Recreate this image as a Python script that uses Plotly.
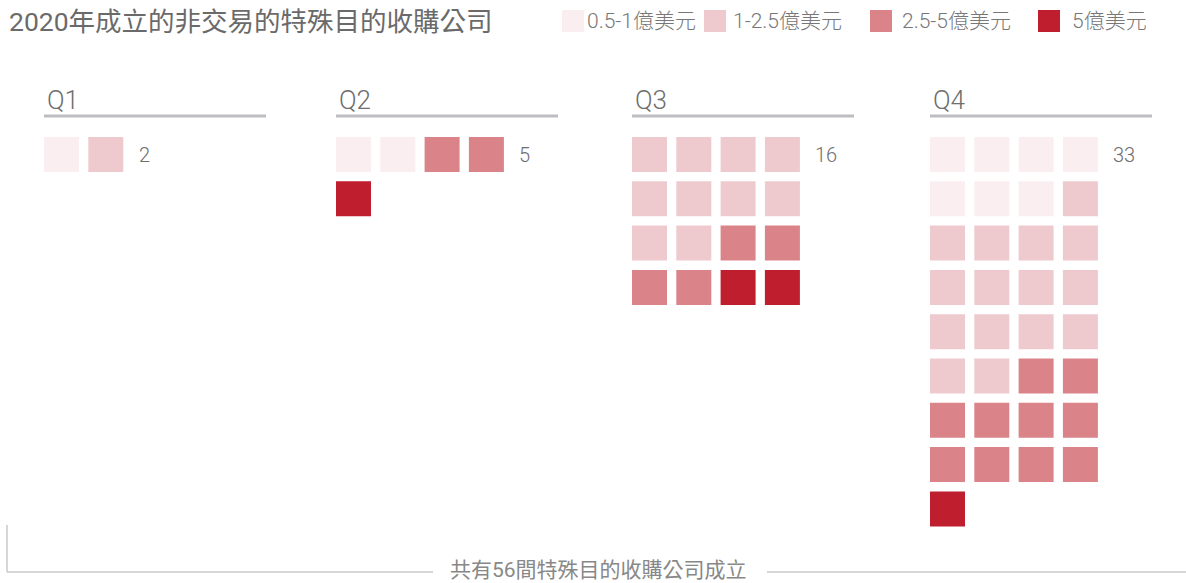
import plotly.graph_objects as go

# ---- data -------------------------------------------------------------
quarters = ["Q1", "Q2", "Q3", "Q4"]
tiers = ["0.5-1億美元", "1-2.5億美元", "2.5-5億美元", "5億美元"]
tier_05_1 = [1, 2, 0, 7]
tier_1_25 = [1, 0, 10, 15]
tier_25_5 = [0, 2, 4, 10]
tier_5 = [0, 1, 2, 1]
title_text = "2020年成立的非交易的特殊目的收購公司"
footer_text = "共有56間特殊目的收購公司成立"

# ---- styling ----------------------------------------------------------
tier_counts = [tier_05_1, tier_1_25, tier_25_5, tier_5]
tier_colors = ["#fbeef0", "#eecacf", "#da8389", "#be1e2d"]
FONT = "Roboto, 'Noto Sans CJK TC', sans-serif"
W, H = 1186, 583
panel_x0 = [44, 336, 632, 930]      # left edge of each quarter panel
grid_y0 = 137                        # top of first row of squares
cell = 35
step = 44.3
ncols = 4

fig = go.Figure()

# waffle squares: fill each quarter row-major, tier by tier
xs = {t: [] for t in range(len(tiers))}
ys = {t: [] for t in range(len(tiers))}
totals = []
for q in range(len(quarters)):
    k = 0
    for t in range(len(tiers)):
        for _ in range(tier_counts[t][q]):
            r, c = divmod(k, ncols)
            xs[t].append(panel_x0[q] + c * step + cell / 2)
            ys[t].append(grid_y0 + r * step + cell / 2)
            k += 1
    totals.append(k)

for t, name in enumerate(tiers):
    fig.add_trace(go.Scatter(
        x=xs[t], y=ys[t], mode="markers", name=name, showlegend=False,
        marker=dict(symbol="square", size=cell, color=tier_colors[t],
                    line=dict(width=0)),
        hoverinfo="skip",
    ))

shapes = []
annotations = []

# quarter headers with underline and total count
for q, label in enumerate(quarters):
    x0 = panel_x0[q]
    annotations.append(dict(
        x=x0 + 1, y=100, text=label, showarrow=False, xanchor="left",
        yanchor="middle", font=dict(family=FONT, size=26, color="#6e6e6e",
                                    weight=300)))
    shapes.append(dict(type="line", x0=x0, x1=x0 + 222, y0=116, y1=116,
                       line=dict(color="#bdbdc2", width=3)))
    first_row = min(totals[q], ncols)
    annotations.append(dict(
        x=x0 + first_row * step + 4, y=grid_y0 + cell / 2,
        text=str(totals[q]), showarrow=False, xanchor="left",
        yanchor="middle", font=dict(family=FONT, size=20, color="#6e6e6e",
                                    weight=300)))

# title
annotations.append(dict(
    x=7, y=21, text=title_text, showarrow=False, xanchor="left",
    yanchor="middle", font=dict(family=FONT, size=26.5, color="#6a6a6a")))

# legend
legend_key_x = [562, 704, 870, 1038]
legend_text_x = [585, 731, 900, 1070]
for t, name in enumerate(tiers):
    lx = legend_key_x[t]
    shapes.append(dict(type="rect", x0=lx, x1=lx + 22, y0=10, y1=32,
                       fillcolor=tier_colors[t], line=dict(width=0)))
    annotations.append(dict(
        x=legend_text_x[t], y=21, text=name, showarrow=False,
        xanchor="left", yanchor="middle",
        font=dict(family=FONT, size=21, color="#777777", weight=300)))

# footer bracket
line_col = "#c9c9c9"
shapes.append(dict(type="line", x0=7, x1=7, y0=525, y1=572,
                   line=dict(color=line_col, width=1.5)))
shapes.append(dict(type="line", x0=7, x1=433, y0=572, y1=572,
                   line=dict(color=line_col, width=1.5)))
shapes.append(dict(type="line", x0=767, x1=W, y0=572, y1=572,
                   line=dict(color=line_col, width=1.5)))
annotations.append(dict(
    x=598, y=570, text=footer_text, showarrow=False, xanchor="center",
    yanchor="middle", font=dict(family=FONT, size=21, color="#888888")))

fig.update_layout(
    width=W, height=H,
    margin=dict(l=0, r=0, t=0, b=0),
    paper_bgcolor="white", plot_bgcolor="white",
    xaxis=dict(range=[0, W], visible=False, fixedrange=True),
    yaxis=dict(range=[H, 0], visible=False, fixedrange=True),
    shapes=shapes, annotations=annotations,
    showlegend=False,
)

fig.write_html("out.html", config={"displayModeBar": False})
